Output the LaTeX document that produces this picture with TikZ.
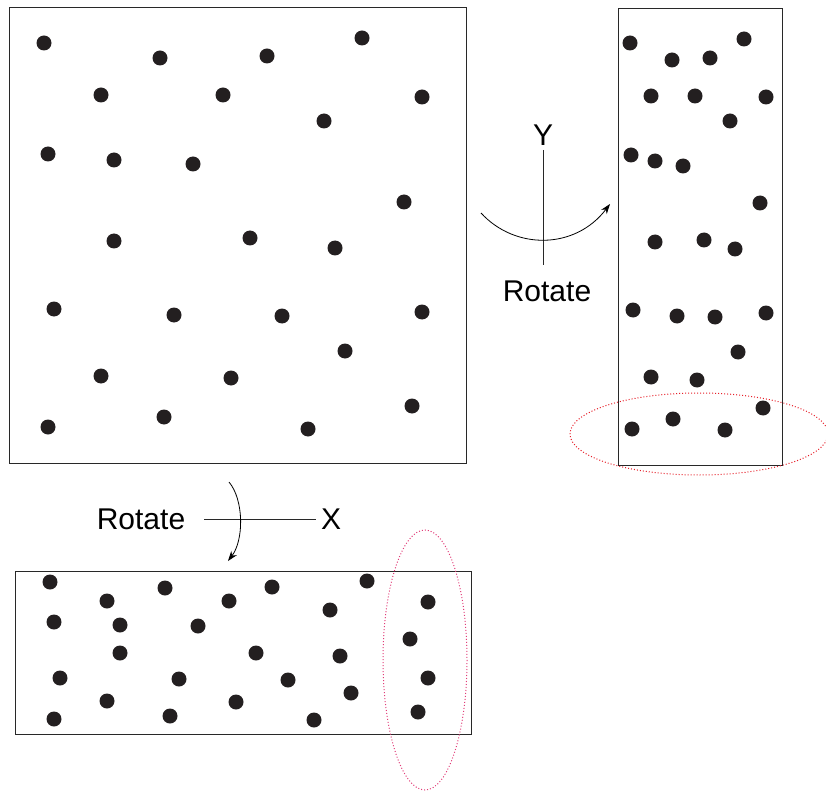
\documentclass[tikz,border=0pt]{standalone}
\usepackage{fontspec}
\setmainfont{Liberation Sans}
\usetikzlibrary{arrows.meta}
\definecolor{framegray}{RGB}{40,40,40}
\definecolor{dotblack}{RGB}{35,31,32}
\definecolor{selred}{RGB}{230,30,40}
\definecolor{selpink}{RGB}{225,60,120}
\tikzset{
  panel/.style={draw=framegray, line width=1pt},
  particle/.style={circle, fill=dotblack, inner sep=0pt, minimum size=15pt},
  axisline/.style={draw=framegray, line width=0.8pt},
  turn/.style={draw=black, line width=0.8pt, -{Stealth[length=10pt,width=7pt]}},
  label/.style={font=\fontsize{30}{35}\selectfont, text=black, inner sep=0pt},
  selection/.style={line width=1pt, dotted},
}
\begin{document}
\begin{tikzpicture}[x=1pt,y=-1pt]
\useasboundingbox (0,0) rectangle (826,791);

% original sample
\draw[panel] (9,8) rectangle (466,463);
\foreach \p in {(44,43),(160,58),(267,56),(362,38),
  (101,95),(223,95),(324,121),(422,97),
  (48,154),(114,160),(193,164),(404,202),
  (114,241),(250,238),(335,248),
  (54,309),(174,315),(282,316),(422,312),(345,351),
  (101,376),(231,378),
  (48,427),(164,417),(308,429),(412,406)}
  \node[particle] at \p {};

% sample seen after rotation about Y
\draw[panel] (618,9) rectangle (782,465);
\foreach \p in {(630,43),(672,60),(710,58),(744,39),
  (651,96),(695,96),(766,97),(730,121),
  (631,155),(655,161),(683,166),(760,203),
  (655,242),(704,240),(735,249),
  (633,310),(677,316),(715,317),(766,313),(738,352),
  (651,377),(697,380),
  (632,429),(673,419),(725,430),(763,408)}
  \node[particle] at \p {};

% sample seen after rotation about X
\draw[panel] (15,571) rectangle (471,734);
\foreach \p in {(50,582),(107,601),(165,588),(229,601),(272,587),(330,610),(367,581),(428,602),
  (54,622),(120,625),(198,626),(410,639),
  (120,653),(256,653),(340,656),
  (60,678),(179,679),(288,680),(351,693),(428,678),
  (107,701),(170,716),(236,702),(314,720),(418,712),(54,719)}
  \node[particle] at \p {};

% Y rotation axis
\node[label] (ylab) at (543,135) {Y};
\coordinate (ytop) at (543,150);
\coordinate (ybot) at (543,265);
\draw[axisline] (ytop) -- (ybot);
\node[label] (yrot) at (547,291) {Rotate};
\coordinate (ya) at (481,213);
\coordinate (yb) at (610,204);
\draw[turn] (ya) .. controls (515,250) and (575,250) .. (yb);

% X rotation axis
\node[label] (xrot) at (141,519) {Rotate};
\node[label] (xlab) at (331,519) {X};
\coordinate (xl) at (204,519);
\coordinate (xr) at (316,519);
\draw[axisline] (xl) -- (xr);
\coordinate (xa) at (229,482);
\coordinate (xb) at (228,561);
\draw[turn] (xa) .. controls (244,500) and (244,540) .. (xb);

% highlighted rows
\draw[selection, draw=selred] (699,434) ellipse [x radius=129, y radius=41];
\draw[selection, draw=selpink] (425,660) ellipse [x radius=42, y radius=130];
\end{tikzpicture}
\end{document}
